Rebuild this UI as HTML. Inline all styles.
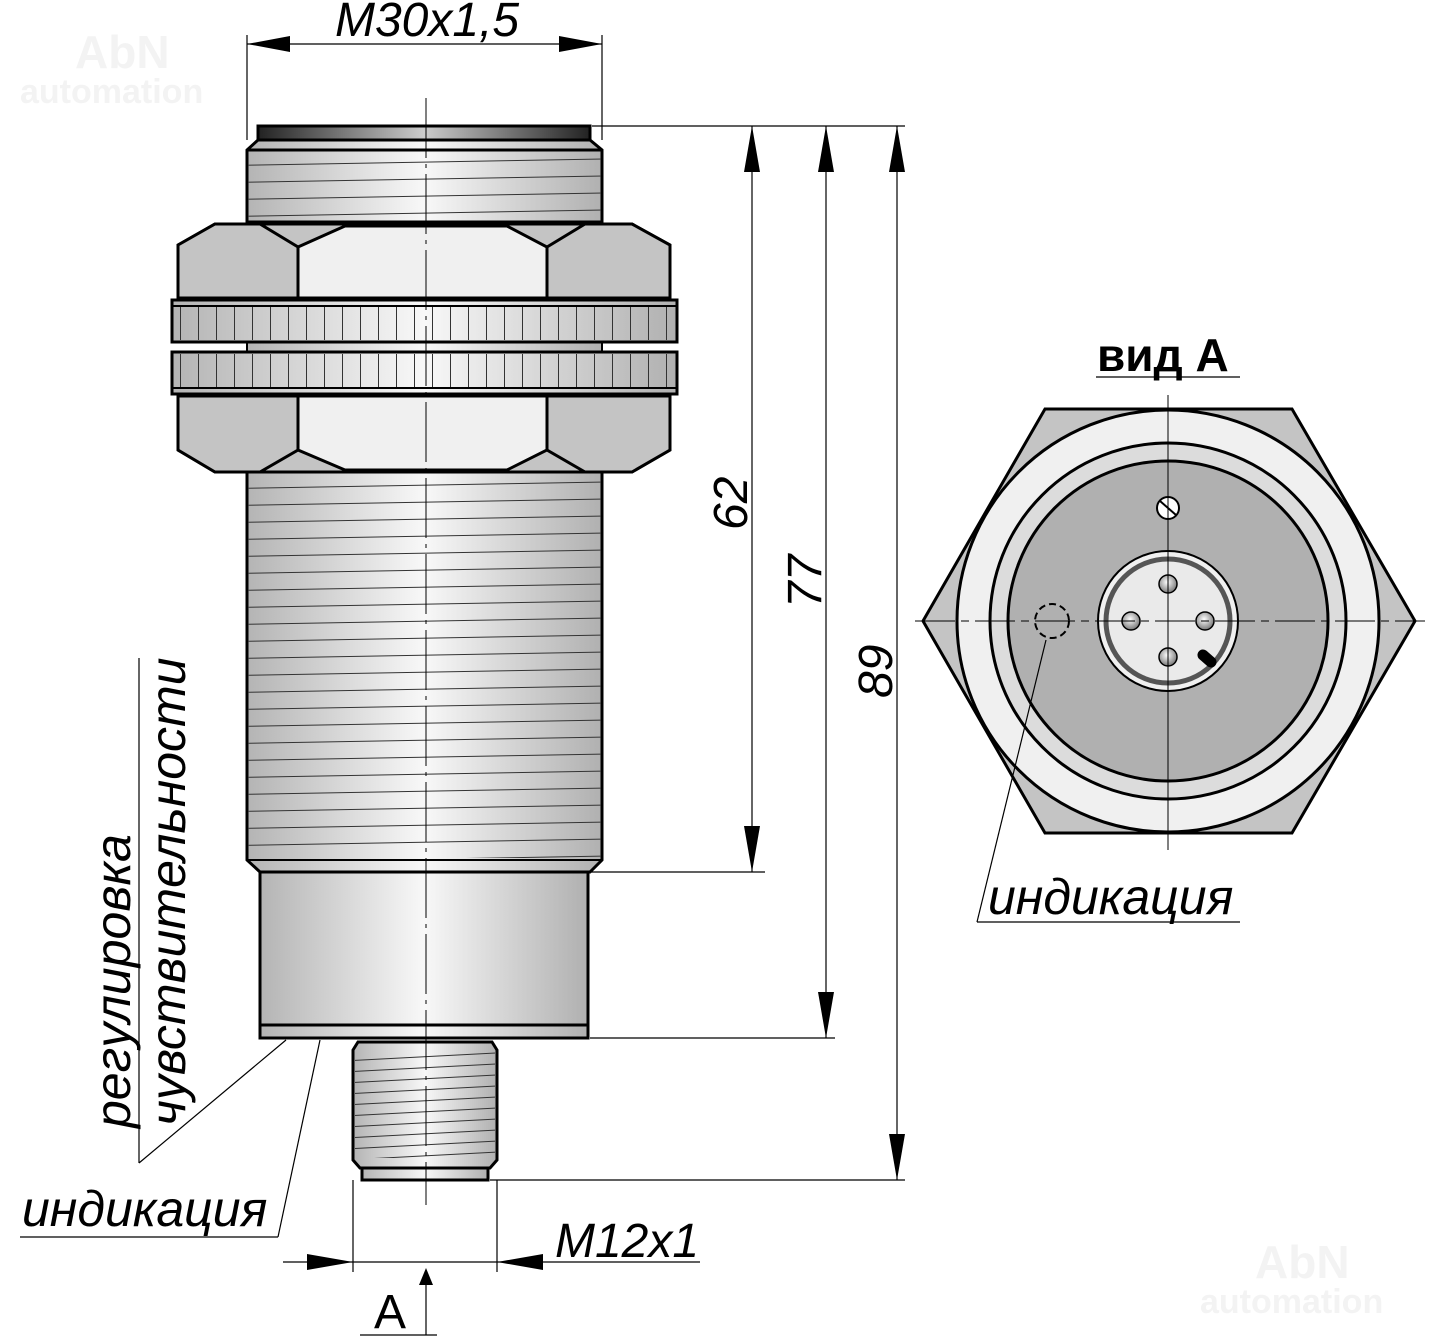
<!DOCTYPE html>
<html><head><meta charset="utf-8"><style>html,body{margin:0;padding:0;background:#fff}svg{display:block}text{font-family:"Liberation Sans",sans-serif}</style></head>
<body>
<svg width="1430" height="1338" viewBox="0 0 1430 1338" xmlns="http://www.w3.org/2000/svg">
<defs>
<linearGradient id="cyl" x1="0" x2="1" y1="0" y2="0">
<stop offset="0" stop-color="#b4b4b4"/><stop offset="0.5" stop-color="#f8f8f8"/><stop offset="1" stop-color="#b0b0b0"/></linearGradient>
<linearGradient id="dark" x1="0" x2="1"><stop offset="0" stop-color="#222"/><stop offset="0.5" stop-color="#ccc"/><stop offset="1" stop-color="#222"/></linearGradient>
<pattern id="thr" width="3000" height="17" patternUnits="userSpaceOnUse" patternTransform="rotate(-1)">
<line x1="0" y1="16.5" x2="3000" y2="16.5" stroke="#333" stroke-width="1"/></pattern>
<pattern id="thr2" width="3000" height="11" patternUnits="userSpaceOnUse" patternTransform="rotate(-3)">
<line x1="0" y1="10.5" x2="3000" y2="10.5" stroke="#333" stroke-width="1"/></pattern>
<pattern id="knurl" width="18" height="50" patternUnits="userSpaceOnUse">
<line x1="0.5" y1="0" x2="0.5" y2="50" stroke="#333" stroke-width="1"/></pattern>
<radialGradient id="pin" cx="0.45" cy="0.4" r="0.6"><stop offset="0" stop-color="#fff"/><stop offset="1" stop-color="#777"/></radialGradient>
</defs>

<g fill="#f3f3f3" font-weight="bold">
<text x="75" y="68" font-size="46">AbN</text><text x="20" y="103" font-size="34">automation</text>
<text x="1255" y="1278" font-size="46">AbN</text><text x="1200" y="1313" font-size="34">automation</text>
</g>

<rect x="258" y="126" width="332" height="14" fill="url(#dark)" stroke="#000" stroke-width="3"/>
<polygon points="258,140 590,140 602,150 602,222 247,222 247,150" fill="url(#cyl)" stroke="#000" stroke-width="3"/>
<rect x="248" y="152" width="353" height="70" fill="url(#thr)"/>
<line x1="247" y1="150" x2="602" y2="150" stroke="#000" stroke-width="3"/>

<polygon points="247,472 602,472 602,860 590,872 260,872 247,860" fill="url(#cyl)" stroke="#000" stroke-width="3"/>
<rect x="248" y="474" width="353" height="384" fill="url(#thr)"/>
<line x1="247" y1="860" x2="602" y2="860" stroke="#000" stroke-width="2"/>
<rect x="247" y="340" width="355" height="14" fill="url(#cyl)" stroke="#000" stroke-width="2"/>

<polygon points="178,245 215,224 632,224 670,245 670,298 178,298" fill="#c4c4c4" stroke="#000" stroke-width="3"/>
<polygon points="298,247 345,226 507,226 547,247 547,298 298,298" fill="#f0f0f0" stroke="#000" stroke-width="3"/>
<polygon points="178,245 215,224 260,224 298,247 298,298 178,298" fill="#c4c4c4" stroke="#000" stroke-width="3"/>
<polygon points="547,247 585,224 632,224 670,245 670,298 547,298" fill="#c4c4c4" stroke="#000" stroke-width="3"/>
<rect x="172" y="300" width="505" height="42" fill="url(#cyl)" stroke="#000" stroke-width="3"/>
<rect x="174" y="306" width="500" height="34" fill="url(#knurl)"/>
<line x1="172" y1="306" x2="677" y2="306" stroke="#000" stroke-width="2"/>
<rect x="172" y="352" width="505" height="42" fill="url(#cyl)" stroke="#000" stroke-width="3"/>
<rect x="174" y="354" width="500" height="34" fill="url(#knurl)"/>
<line x1="172" y1="388" x2="677" y2="388" stroke="#000" stroke-width="2"/>
<polygon points="178,396 670,396 670,450 632,472 215,472 178,450" fill="#c4c4c4" stroke="#000" stroke-width="3"/>
<polygon points="298,396 547,396 547,450 507,470 345,470 298,450" fill="#f0f0f0" stroke="#000" stroke-width="3"/>
<polygon points="178,396 298,396 298,450 260,472 215,472 178,450" fill="#c4c4c4" stroke="#000" stroke-width="3"/>
<polygon points="547,396 670,396 670,450 632,472 585,472 547,450" fill="#c4c4c4" stroke="#000" stroke-width="3"/>

<rect x="260" y="872" width="328" height="166" fill="url(#cyl)" stroke="#000" stroke-width="3"/>
<line x1="260" y1="1025" x2="588" y2="1025" stroke="#000" stroke-width="3"/>

<polygon points="358,1042 492,1042 497,1050 497,1160 490,1168 360,1168 353,1160 353,1050" fill="url(#cyl)" stroke="#000" stroke-width="3"/>
<rect x="355" y="1052" width="140" height="106" fill="url(#thr2)"/>
<rect x="362" y="1168" width="126" height="12" fill="url(#cyl)" stroke="#000" stroke-width="3"/>

<line x1="426" y1="98" x2="426" y2="1205" stroke="#000" stroke-width="1" stroke-dasharray="60,6,4,6"/>

<polygon points="923,621 1045,409 1292,409 1415,621 1292,833 1045,833" fill="#c4c4c4" stroke="#000" stroke-width="3"/>
<circle cx="1168" cy="621" r="211" fill="#f0f0f0" stroke="#000" stroke-width="3"/>
<circle cx="1168" cy="621" r="178" fill="#dcdcdc" stroke="#000" stroke-width="3"/>
<circle cx="1168" cy="621" r="160" fill="#b0b0b0" stroke="#000" stroke-width="3"/>
<circle cx="1168" cy="621" r="70" fill="#f0f0f0" stroke="#000" stroke-width="2"/>
<circle cx="1168" cy="621" r="62" fill="#eaeaea" stroke="#555" stroke-width="5"/>
<g fill="url(#pin)" stroke="#000" stroke-width="1.5">
<circle cx="1168" cy="584" r="9"/><circle cx="1131" cy="621" r="9"/><circle cx="1205" cy="621" r="9"/><circle cx="1168" cy="657" r="9"/>
</g>
<line x1="1203" y1="655" x2="1211" y2="662" stroke="#000" stroke-width="11" stroke-linecap="round"/>
<circle cx="1168" cy="508" r="11" fill="#fff" stroke="#000" stroke-width="2"/>
<line x1="1160" y1="501" x2="1176" y2="515" stroke="#000" stroke-width="2"/>
<circle cx="1052" cy="621" r="17" fill="none" stroke="#000" stroke-width="2" stroke-dasharray="7,4"/>
<g stroke="#000" stroke-width="1" fill="none">
<line x1="1168" y1="395" x2="1168" y2="850"/>
<line x1="915" y1="621" x2="1425" y2="621" stroke-dasharray="40,6,8,6"/>
</g>

<g stroke="#000" stroke-width="1.2" fill="none">
<line x1="247" y1="35" x2="247" y2="140"/><line x1="602" y1="35" x2="602" y2="140"/>
<line x1="247" y1="44" x2="602" y2="44"/>
<line x1="592" y1="126" x2="905" y2="126"/>
<line x1="590" y1="872" x2="765" y2="872"/>
<line x1="590" y1="1038" x2="835" y2="1038"/>
<line x1="490" y1="1180" x2="905" y2="1180"/>
<line x1="752" y1="126" x2="752" y2="872"/>
<line x1="826" y1="126" x2="826" y2="1038"/>
<line x1="897" y1="126" x2="897" y2="1180"/>
<line x1="353" y1="1180" x2="353" y2="1272"/><line x1="497" y1="1180" x2="497" y2="1272"/>
<line x1="283" y1="1262" x2="700" y2="1262"/>
<line x1="426" y1="1280" x2="426" y2="1335"/>
<line x1="360" y1="1335" x2="437" y2="1335"/>
<line x1="286" y1="1040" x2="139" y2="1163"/><line x1="139" y1="1163" x2="139" y2="658"/>
<line x1="320" y1="1040" x2="278" y2="1237"/><line x1="278" y1="1237" x2="20" y2="1237"/>
<line x1="1046" y1="640" x2="977" y2="922"/><line x1="977" y1="922" x2="1240" y2="922"/>
<line x1="1096" y1="377" x2="1240" y2="377"/>
</g>
<g fill="#000">
<polygon points="247,44 290,36 290,52"/><polygon points="602,44 559,36 559,52"/>
<polygon points="752,126 744,172 760,172"/><polygon points="752,872 744,826 760,826"/>
<polygon points="826,126 818,172 834,172"/><polygon points="826,1038 818,992 834,992"/>
<polygon points="897,126 889,172 905,172"/><polygon points="897,1180 889,1134 905,1134"/>
<polygon points="353,1262 307,1254 307,1270"/><polygon points="497,1262 543,1254 543,1270"/>
<polygon points="426,1268 419,1285 433,1285"/>
</g>
<g font-style="italic" fill="#000">
<text x="335" y="36" font-size="48">M30x1,5</text>
<text x="555" y="1257" font-size="48">M12x1</text>
<text x="22" y="1226" font-size="50">индикация</text>
<text x="988" y="914" font-size="50">индикация</text>
<text transform="translate(747,530) rotate(-90)" font-size="48">62</text>
<text transform="translate(821,608) rotate(-90)" font-size="48">77</text>
<text transform="translate(892,698) rotate(-90)" font-size="48">89</text>
<text transform="translate(130,1128) rotate(-90)" font-size="50">регулировка</text>
<text transform="translate(185,1126) rotate(-90)" font-size="50">чувствительности</text>
</g>
<text x="374" y="1328" font-size="48" fill="#000">A</text>
<text x="1097" y="371" font-size="46" font-weight="bold" fill="#000">вид A</text>
</svg>
</body></html>
